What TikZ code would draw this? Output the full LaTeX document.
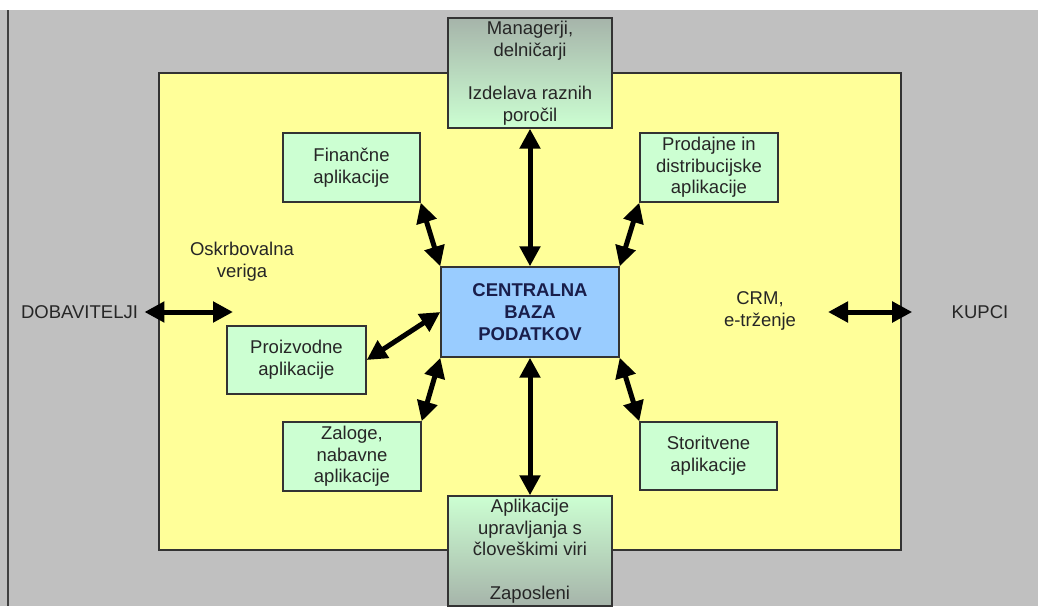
\documentclass[tikz,border=0pt]{standalone}
\usepackage{fontspec}
\setmainfont{Liberation Sans}
\usepackage{tikz}
\usetikzlibrary{arrows.meta}
\definecolor{bgray}{RGB}{192,192,192}
\definecolor{ylw}{RGB}{255,255,153}
\definecolor{mint}{RGB}{204,255,210}
\definecolor{sky}{RGB}{153,204,255}
\definecolor{shd}{RGB}{166,180,170}
\definecolor{navy}{RGB}{25,30,75}
\tikzset{l/.style={font=\fontsize{18.5}{21.7}\selectfont, text=black!85, align=center}}
\tikzset{app/.style={l, draw=black!80, line width=1.4pt, fill=mint, inner sep=0pt}}
\tikzset{dbl/.style={line width=5pt, {Triangle[length=20pt,width=20pt]}-{Triangle[length=20pt,width=20pt]}}}

\begin{document}
\begin{tikzpicture}[x=1pt,y=-1pt]
        \useasboundingbox (0,0) rectangle (1038,606);
        % background
        \fill[white] (0,0) rectangle (1038,10);
        \fill[bgray] (0,10) rectangle (1038,606);
        \draw[black!75, line width=1.5pt] (8,10) -- (8,606);
        \draw[fill=ylw, draw=black!80, line width=1.4pt] (159,73) rectangle (901,550);
        % boxes
        \node[app, fill=sky, font=\fontsize{18.5}{22}\selectfont\bfseries, text=navy,
              minimum width=178pt, minimum height=90pt] (baza) at (530,312) {CENTRALNA\\BAZA\\PODATKOV};
        \node[app, top color=shd, bottom color=mint, minimum width=164pt, minimum height=110pt]
              (mgr) at (530,73) {Managerji,\\delničarji\\[21.7pt]Izdelava raznih\\poročil};
        \node[app, top color=mint, bottom color=shd, minimum width=164pt, minimum height=110pt]
              (zap) at (530,551) {Aplikacije\\upravljanja s\\človeškimi viri\\[21.7pt]Zaposleni};
        \node[app, minimum width=137pt, minimum height=69pt] (fin) at (351.5,167.5) {Finančne\\aplikacije};
        \node[app, minimum width=138pt, minimum height=69pt] (prod) at (709,167.5) {Prodajne in\\distribucijske\\aplikacije};
        \node[app, minimum width=139pt, minimum height=68pt] (proiz) at (296.5,360) {Proizvodne\\aplikacije};
        \node[app, minimum width=138pt, minimum height=69pt] (zal) at (352,456.5) {Zaloge,\\nabavne\\aplikacije};
        \node[app, minimum width=137pt, minimum height=68pt] (stor) at (708.5,456) {Storitvene\\aplikacije};
        % free labels
        \node[l] (oskr) at (242,262) {Oskrbovalna\\veriga};
        \node[l] (crm) at (760,311) {CRM,\\e-trženje};
        \node[l] (dob) at (79.5,312) {DOBAVITELJI};
        \node[l] (kup) at (980,312) {KUPCI};
        \coordinate (dobR) at (233,312);
        \coordinate (kupL) at (828,312);
        % arrows
        \path (mgr) edge[dbl] (baza);
        \path (baza) edge[dbl] (zap);
        \path (fin.south east) edge[dbl] (baza.north west);
        \path (prod.south west) edge[dbl] (baza.north east);
        \path (proiz.east) edge[dbl] (baza.west);
        \path (zal.north east) edge[dbl] (baza.south west);
        \path (stor.north west) edge[dbl] (baza.south east);
        \path (dob.east) edge[dbl, shorten <=3pt] (dobR);
        \path (kupL) edge[dbl, shorten >=36pt] (kup.west);
\end{tikzpicture}
\end{document}
